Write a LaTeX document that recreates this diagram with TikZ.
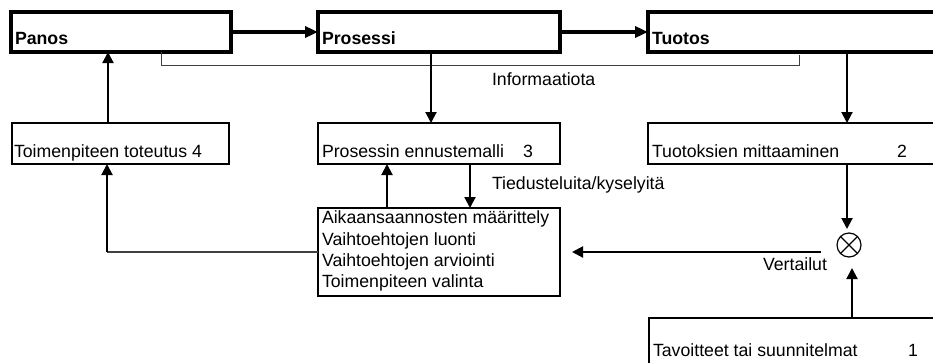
\documentclass[tikz,border=0pt]{standalone}
\usepackage{fontspec}
\setmainfont{Liberation Sans}
\usetikzlibrary{arrows.meta}
\begin{document}
\begin{tikzpicture}[x=1pt,y=-1pt,
  every node/.style={font=\fontsize{17.7}{21.3}\selectfont, inner sep=0pt, outer sep=0pt},
  topbox/.style={draw, line width=3.6pt, anchor=north west, minimum height=40pt},
  subbox/.style={draw, line width=2pt, anchor=north west, minimum height=41pt},
  txt/.style={anchor=base west},
  boldtxt/.style={anchor=base west, font=\fontsize{17.7}{21.3}\selectfont\bfseries},
  arr/.style={line width=2pt, -{Triangle[length=11pt,width=11pt]}},
  bigarr/.style={line width=3.6pt, -{Triangle[length=13pt,width=11pt]}},
  infoline/.style={line width=1pt, black!75},
  feedline/.style={line width=1.5pt, black!75},
]
\useasboundingbox (0,0) rectangle (933,362);
\clip (0,0) rectangle (933,362);

% top row: input, process, output
\node[topbox, minimum width=220pt] (panos) at (11,12) {};
\node[topbox, minimum width=242pt] (prosessi) at (318,12) {};
\node[topbox, minimum width=340pt] (tuotos) at (648,12) {};
\node[boldtxt] (tpanos) at (15,44) {Panos};
\node[boldtxt] (tprosessi) at (322,44) {Prosessi};
\node[boldtxt] (ttuotos) at (652,44) {Tuotos};

% second row
\node[subbox, minimum width=217pt] (toim) at (12,123) {};
\node[subbox, minimum width=242pt] (ennuste) at (318,123) {};
\node[subbox, minimum width=340pt] (mittaus) at (648,123) {};
\node[txt] (ttoim) at (14,157) {Toimenpiteen toteutus 4};
\node[txt] (tennuste) at (322,157) {Prosessin ennustemalli};
\node[txt] (nennuste) at (523,157) {3};
\node[txt] (tmittaus) at (652,157) {Tuotoksien mittaaminen};
\node[txt] (nmittaus) at (897,157) {2};

% decision box
\node[subbox, minimum width=242pt, minimum height=88pt, line width=2.2pt] (paatos) at (318,208) {};
\node[txt, align=left, anchor=north west] (tpaatos) at (322,211)
  {Aikaansaannosten määrittely\\Vaihtoehtojen luonti\\Vaihtoehtojen arviointi\\Toimenpiteen valinta};

% goals box
\node[subbox, minimum width=340pt, minimum height=80pt] (tavoite) at (649,318) {};
\node[txt] (ttavoite) at (653,356) {Tavoitteet tai suunnitelmat};
\node[txt] (ntavoite) at (908,356) {1};

% comparator
\node[draw, circle, minimum size=24pt, line width=1.2pt] (cmp) at (849,245) {};
\draw[line width=1.2pt] (cmp.north west) -- (cmp.south east);
\draw[line width=1.2pt] (cmp.north east) -- (cmp.south west);

% labels
\node[anchor=west] (linfo) at (492,79) {Informaatiota};
\node[anchor=west] (lkysely) at (492,185) {Tiedusteluita/kyselyitä};
\node[anchor=west] (lvert) at (763,264) {Vertailut};

% main flow
\draw[bigarr] (panos.east) -- (prosessi.west);
\draw[bigarr] (prosessi.east) -- (prosessi.east -| tuotos.west);

% information bracket
\draw[infoline] ([xshift=150pt]panos.south west) -- ++(0,13) -| ([xshift=151pt,yshift=-3pt]tuotos.south west);

% vertical connectors
\draw[arr] ([xshift=113pt]prosessi.south west) -- ([xshift=113pt]ennuste.north west);
\draw[arr] ([xshift=199pt]tuotos.south west) -- ([xshift=199pt]mittaus.north west);
\draw[arr] ([xshift=96pt]toim.north west) -- ([xshift=97pt]panos.south west);
\draw[arr] ([xshift=69pt]paatos.north west) -- ([xshift=69pt]ennuste.south west);
\draw[arr] ([xshift=152pt]ennuste.south west) -- ([xshift=152pt]paatos.north west);

% feedback to implementation
\coordinate (corner) at ([xshift=95pt]toim.south west |- paatos.west);
\draw[feedline] (paatos.west) -- (corner);
\draw[arr] (corner) -- ([xshift=95pt]toim.south west);

% comparator connections
\coordinate (cmpin) at (847,229);
\coordinate (cmpout) at (821,252);
\coordinate (paatosin) at (572,252);
\coordinate (cmpup) at (852,268);
\draw[arr] ([xshift=199pt]mittaus.south west) -- (cmpin);
\draw[arr] (cmpout) -- (paatosin);
\draw[arr] ([xshift=203pt]tavoite.north west) -- (cmpup);
\end{tikzpicture}
\end{document}
